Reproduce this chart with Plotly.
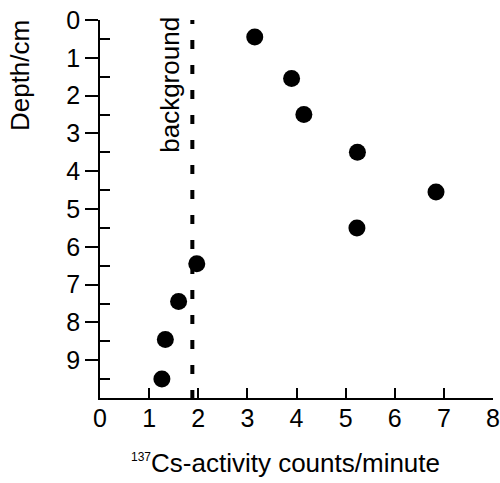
import plotly.graph_objects as go

depth_cm = [0.45, 1.55, 2.5, 3.5, 4.55, 5.5, 6.45, 7.45, 8.45, 9.5]
activity_cpm = [3.15, 3.9, 4.15, 5.24, 6.84, 5.23, 1.97, 1.6, 1.33, 1.26]
background_cpm = 1.88
x_ticks = [0, 1, 2, 3, 4, 5, 6, 7, 8]
y_ticks = [0, 1, 2, 3, 4, 5, 6, 7, 8, 9]

FONT = "Liberation Sans, Arial, sans-serif"

fig = go.Figure()
fig.add_trace(go.Scatter(
    x=activity_cpm, y=depth_cm, mode="markers",
    marker=dict(color="black", size=17, line=dict(width=0)),
    showlegend=False, cliponaxis=False,
))

fig.add_shape(type="line", xref="x", yref="y",
              x0=background_cpm, x1=background_cpm, y0=-0.13, y1=10,
              line=dict(color="black", width=4, dash="9px,16px"))

fig.add_annotation(x=1.42, y=1.72, xref="x", yref="y", text="background",
                   textangle=-90, showarrow=False, xanchor="center", yanchor="middle",
                   font=dict(family=FONT, size=26, color="black"))

# axis titles
fig.add_annotation(x=-0.205, y=1.005, xref="paper", yref="paper", text="Depth/cm",
                   textangle=-90, showarrow=False, xanchor="center", yanchor="top",
                   font=dict(family=FONT, size=26, color="black"))
fig.add_annotation(x=0.472, y=-0.172, xref="paper", yref="paper",
                   text='<sup><span style="font-size:12px">137</span></sup>Cs-activity counts/minute',
                   showarrow=False, xanchor="center", yanchor="middle",
                   font=dict(family=FONT, size=26, color="black"))

fig.update_layout(
    width=500, height=483,
    margin=dict(l=100, r=7, t=20, b=85),
    paper_bgcolor="white", plot_bgcolor="white",
    font=dict(family=FONT, color="black"),
)

fig.update_xaxes(
    range=[0, 8], tickvals=x_ticks, ticktext=[str(v) for v in x_ticks],
    showgrid=False, zeroline=False, automargin=False,
    showline=True, linecolor="black", linewidth=1.5,
    ticks="inside", ticklen=10, tickwidth=1.5, tickcolor="black",
    ticklabelstandoff=-3,
    tickfont=dict(family=FONT, size=25, color="black"),
)

fig.update_yaxes(
    range=[10, 0], tickvals=y_ticks, ticktext=[str(v) for v in y_ticks],
    showgrid=False, zeroline=False, automargin=False,
    showline=True, linecolor="black", linewidth=1.5,
    ticks="outside", ticklen=13, tickwidth=1.5, tickcolor="black",
    tickfont=dict(family=FONT, size=25, color="black"),
    minor=dict(ticks="inside", ticklen=10, tickwidth=1.5, tickcolor="black",
               tick0=0.5, dtick=1, showgrid=False),
)

fig.write_html("out.html")
